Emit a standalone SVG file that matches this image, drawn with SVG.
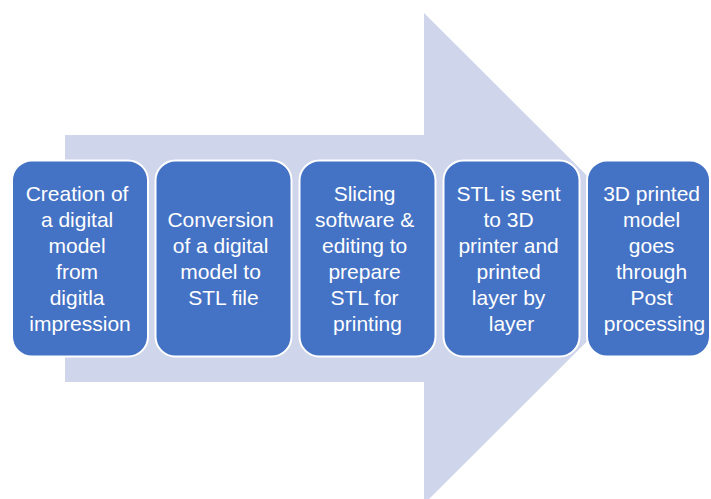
<svg xmlns="http://www.w3.org/2000/svg" width="711" height="499" viewBox="0 0 711 499">
  <style>
    .step { fill: #4472C4; stroke: #FFFFFF; stroke-width: 2; }
    .label { fill: #FFFFFF; font-family: "Liberation Sans", Arial, sans-serif; font-size: 21px; text-anchor: middle; }
  </style>
  <rect width="711" height="499" fill="#FFFFFF"/>

  <!-- Background process arrow -->
  <g id="process-arrow">
    <polygon points="65,135 424,135 424,13 670,258.5 424,504 424,382 65,382" fill="#CFD5EA"/>
  </g>

  <g id="step-1">
    <rect class="step" x="12" y="160.5" width="136" height="196" rx="20" ry="20"/>
    <text class="label">
      <tspan x="80" y="201">Creation of</tspan>
      <tspan x="80" y="227">a digital</tspan>
      <tspan x="80" y="253">model</tspan>
      <tspan x="80" y="279">from</tspan>
      <tspan x="80" y="305">digitla</tspan>
      <tspan x="80" y="331">impression</tspan>
    </text>
  </g>

  <g id="step-2">
    <rect class="step" x="155.5" y="160.5" width="136" height="196" rx="20" ry="20"/>
    <text class="label">
      <tspan x="223.5" y="227">Conversion</tspan>
      <tspan x="223.5" y="253">of a digital</tspan>
      <tspan x="223.5" y="279">model to</tspan>
      <tspan x="223.5" y="305">STL file</tspan>
    </text>
  </g>

  <g id="step-3">
    <rect class="step" x="299.5" y="160.5" width="136" height="196" rx="20" ry="20"/>
    <text class="label">
      <tspan x="367.5" y="201">Slicing</tspan>
      <tspan x="367.5" y="227">software &amp;</tspan>
      <tspan x="367.5" y="253">editing to</tspan>
      <tspan x="367.5" y="279">prepare</tspan>
      <tspan x="367.5" y="305">STL for</tspan>
      <tspan x="367.5" y="331">printing</tspan>
    </text>
  </g>

  <g id="step-4">
    <rect class="step" x="443.5" y="160.5" width="136" height="196" rx="20" ry="20"/>
    <text class="label">
      <tspan x="511.5" y="201">STL is sent</tspan>
      <tspan x="511.5" y="227">to 3D</tspan>
      <tspan x="511.5" y="253">printer and</tspan>
      <tspan x="511.5" y="279">printed</tspan>
      <tspan x="511.5" y="305">layer by</tspan>
      <tspan x="511.5" y="331">layer</tspan>
    </text>
  </g>

  <g id="step-5">
    <rect class="step" x="587" y="160.5" width="123" height="196" rx="20" ry="20"/>
    <text class="label">
      <tspan x="654.5" y="201">3D printed</tspan>
      <tspan x="654.5" y="227">model</tspan>
      <tspan x="654.5" y="253">goes</tspan>
      <tspan x="654.5" y="279">through</tspan>
      <tspan x="654.5" y="305">Post</tspan>
      <tspan x="654.5" y="331">processing</tspan>
    </text>
  </g>

  <g id="connectors"></g>
</svg>
